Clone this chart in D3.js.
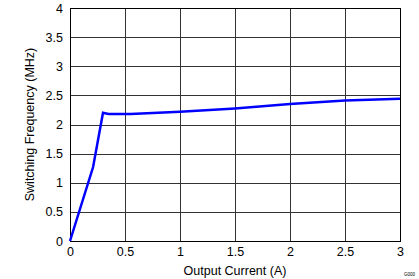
<!DOCTYPE html>
<html>
<head>
<meta charset="utf-8">
<script src="https://cdn.jsdelivr.net/npm/d3@7"></script>
<style>
body { margin: 0; background: #fff; }
svg { display: block; font-family: "Liberation Sans", Arial, sans-serif; }
</style>
</head>
<body>
<div id="chart"></div>
<script>
const width = 419;
const height = 279;
const margin = {top: 8, right: 19, bottom: 38, left: 70};

// output current (A) vs switching frequency (MHz)
const current = [0, 0.21, 0.30, 0.35, 0.55, 1.0, 1.5, 2.0, 2.5, 3.0];
const freq = [0, 1.27, 2.20, 2.18, 2.18, 2.22, 2.275, 2.35, 2.41, 2.44];

const xTicks = [0, 0.5, 1, 1.5, 2, 2.5, 3];
const yTicks = [0, 0.5, 1, 1.5, 2, 2.5, 3, 3.5, 4];

const svg = d3.select("#chart")
    .append("svg")
    .attr("width", width)
    .attr("height", height);

const x = d3.scaleLinear().domain([0, 3]).range([margin.left, width - margin.right]);
const y = d3.scaleLinear().domain([0, 4]).range([height - margin.bottom, margin.top]);

// グリッド線
svg.append("g")
    .selectAll("line.v")
    .data(xTicks)
    .join("line")
    .attr("x1", d => Math.round(x(d)) + 0.5)
    .attr("x2", d => Math.round(x(d)) + 0.5)
    .attr("y1", y(4))
    .attr("y2", y(0))
    .attr("stroke", "#333")
    .attr("stroke-width", 1);

svg.append("g")
    .selectAll("line.h")
    .data(yTicks)
    .join("line")
    .attr("x1", x(0))
    .attr("x2", x(3))
    .attr("y1", d => Math.round(y(d)) + 0.5)
    .attr("y2", d => Math.round(y(d)) + 0.5)
    .attr("stroke", "#333")
    .attr("stroke-width", 1);

// 枠
svg.append("rect")
    .attr("x", Math.round(x(0)) + 0.5)
    .attr("y", Math.round(y(4)) + 0.5)
    .attr("width", Math.round(x(3)) - Math.round(x(0)))
    .attr("height", Math.round(y(0)) - Math.round(y(4)))
    .attr("fill", "none")
    .attr("stroke", "#000")
    .attr("stroke-width", 1);

// 軸ラベル（目盛り）
const xAxis = d3.axisBottom(x).tickValues(xTicks).tickSize(0).tickPadding(6)
    .tickFormat(d => d);
const yAxis = d3.axisLeft(y).tickValues(yTicks).tickSize(0).tickPadding(7)
    .tickFormat(d => d);

const gx = svg.append("g")
    .attr("transform", `translate(0,${y(0)})`)
    .call(xAxis);
const gy = svg.append("g")
    .attr("transform", `translate(${x(0)},0)`)
    .call(yAxis);

[gx, gy].forEach(g => {
    g.select(".domain").remove();
    g.selectAll("text")
        .attr("font-size", 12.5)
        .attr("font-family", "'Liberation Sans', Arial, sans-serif")
        .attr("fill", "#000");
});

// データ線
const line = d3.line()
    .x((d, i) => x(current[i]))
    .y(d => y(d));

svg.append("path")
    .datum(freq)
    .attr("d", line)
    .attr("fill", "none")
    .attr("stroke", "#0000ff")
    .attr("stroke-width", 2.5);

// タイトル
svg.append("text")
    .attr("x", (x(0) + x(3)) / 2)
    .attr("y", 275)
    .attr("text-anchor", "middle")
    .attr("font-size", 12.5)
    .text("Output Current (A)");

svg.append("text")
    .attr("transform", `translate(34,${(y(0) + y(4)) / 2}) rotate(-90)`)
    .attr("text-anchor", "middle")
    .attr("font-size", 12.5)
    .text("Switching Frequency (MHz)");

svg.append("text")
    .attr("x", 404)
    .attr("y", 276)
    .attr("font-size", 4.5)
    .text("G000");
</script>
</body>
</html>
